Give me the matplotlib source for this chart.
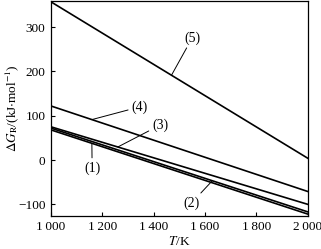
import numpy as np
import matplotlib
matplotlib.use("Agg")
import matplotlib.pyplot as plt

plt.rcParams['font.family'] = ['Liberation Serif', 'DejaVu Serif']
plt.rcParams['mathtext.fontset'] = 'stix'

T = [1000, 2000]
line1 = [68, -122]
line2 = [72, -117]
line3 = [75, -100]
line4 = [122, -71]
line5 = [357, 4]
series = [line1, line2, line3, line4, line5]
labels = ['(1)', '(2)', '(3)', '(4)', '(5)']
xticks = [1000, 1200, 1400, 1600, 1800, 2000]
xticklabels = ['1\u2009000', '1\u2009200', '1\u2009400', '1\u2009600', '1\u2009800', '2\u2009000']
yticks = [-100, 0, 100, 200, 300]

# label text positions (T, value) and point on the line (T)
label_text = [(1160, -18), (1547, -97), (1425, 79), (1345, 120), (1550, 276)]
label_point_T = [1159, 1628, 1260, 1159, 1469]

fig = plt.figure(figsize=(3.21, 2.49), dpi=100)
ax = fig.add_axes([0.159, 0.133, 0.800, 0.863])

for s in series:
    ax.plot(T, s, color='black', lw=1.2)

for s, lab, (tx, ty), px in zip(series, labels, label_text, label_point_T):
    py = np.interp(px, T, s)
    ax.annotate(lab, xy=(px, py), xytext=(tx, ty), ha='center', va='center',
                fontsize=10,
                arrowprops=dict(arrowstyle='-', lw=0.7, color='black',
                                shrinkA=0.5, shrinkB=0))

ax.set_xlim(1000, 2000)
ax.set_ylim(-126, 359)
ax.set_xticks(xticks)
ax.set_xticklabels(xticklabels)
ax.set_yticks(yticks)
ax.tick_params(direction='in', length=3, width=0.8, labelsize=9.5, pad=4)
for sp in ax.spines.values():
    sp.set_linewidth(0.9)

ax.set_xlabel(r'$T$/K', fontsize=9.5, labelpad=1)
ax.set_ylabel(r'$\Delta G_{\rm R}$/(kJ$\cdot$mol$^{-1}$)', fontsize=9.5)
ax.yaxis.set_label_coords(-0.118, 0.5)

fig.savefig('out.png', dpi=100)
